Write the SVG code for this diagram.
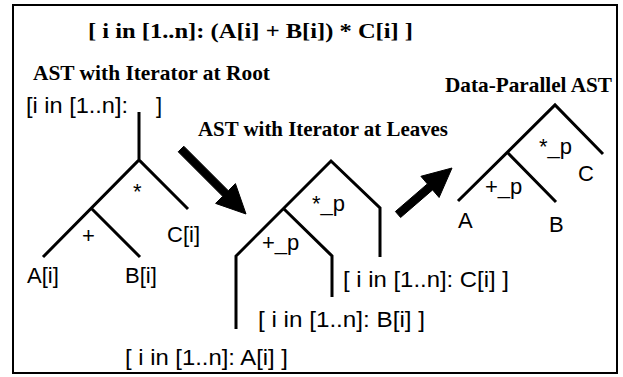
<svg xmlns="http://www.w3.org/2000/svg" width="623" height="377" viewBox="0 0 623 377">
<style>
.edge{fill:none;stroke:#000;stroke-width:3;stroke-linejoin:miter;stroke-linecap:butt}
.h{font-family:"Liberation Serif","Times New Roman",serif;font-weight:bold;font-size:21px;fill:#000}
.s{font-family:"Liberation Sans",Arial,sans-serif;font-size:22px;fill:#000}
.arrow{fill:#000;stroke:#000;stroke-width:1;stroke-linejoin:round}
</style>
<rect x="0" y="0" width="623" height="377" fill="#fff"/>
<rect x="13" y="5" width="604" height="368" fill="#fff" stroke="#000" stroke-width="2"/>
<g id="title">
<text class="h" x="88" y="38" font-size="22" textLength="325" lengthAdjust="spacingAndGlyphs">[ i in [1..n]: (A[i] + B[i]) * C[i] ]</text>
</g>
<g id="tree-root">
<text class="h" x="33" y="80" textLength="237" lengthAdjust="spacingAndGlyphs">AST with Iterator at Root</text>
<text class="s" x="26" y="113" textLength="102" lengthAdjust="spacingAndGlyphs">[i in [1..n]:</text>
<text class="s" x="156" y="113">]</text>
<path class="edge" d="M139,112 V160 M43,257 L139,160 L188,209 M92,209 L140,257"/>
<text class="s" x="133" y="199">*</text>
<text class="s" x="82" y="243">+</text>
<text class="s" x="167" y="242">C[i]</text>
<text class="s" x="27" y="283">A[i]</text>
<text class="s" x="125" y="283">B[i]</text>
</g>
<g id="tree-leaves">
<text class="h" x="198" y="136" textLength="250" lengthAdjust="spacingAndGlyphs">AST with Iterator at Leaves</text>
<path class="edge" d="M236,329 V256 L331,161 L380,208 V257 M284,209 L332,256 V297"/>
<text class="s" x="312" y="211">*_p</text>
<text class="s" x="262" y="250">+_p</text>
<text class="s" x="343" y="287" textLength="166" lengthAdjust="spacingAndGlyphs">[ i in [1..n]: C[i] ]</text>
<text class="s" x="258" y="327" textLength="167" lengthAdjust="spacingAndGlyphs">[ i in [1..n]: B[i] ]</text>
<text class="s" x="125" y="365" textLength="163" lengthAdjust="spacingAndGlyphs">[ i in [1..n]: A[i] ]</text>
</g>
<g id="tree-dp">
<text class="h" x="445" y="92" textLength="167" lengthAdjust="spacingAndGlyphs">Data-Parallel AST</text>
<path class="edge" d="M458,201 L555,105 L603,154 M508,153 L556,202"/>
<text class="s" x="539" y="154">*_p</text>
<text class="s" x="578" y="181">C</text>
<text class="s" x="485" y="194">+_p</text>
<text class="s" x="458" y="228">A</text>
<text class="s" x="549" y="232">B</text>
</g>
<g id="connectors">
<polygon class="arrow" points="183.8,146.2 228.3,190.7 235.4,183.6 246,214 215.6,203.4 222.7,196.3 178.2,151.8"/>
<polygon class="arrow" points="395.4,211.5 427.4,183.9 420.9,176.3 452,168 439.1,197.5 432.6,189.9 400.6,217.5"/>
</g>
</svg>
